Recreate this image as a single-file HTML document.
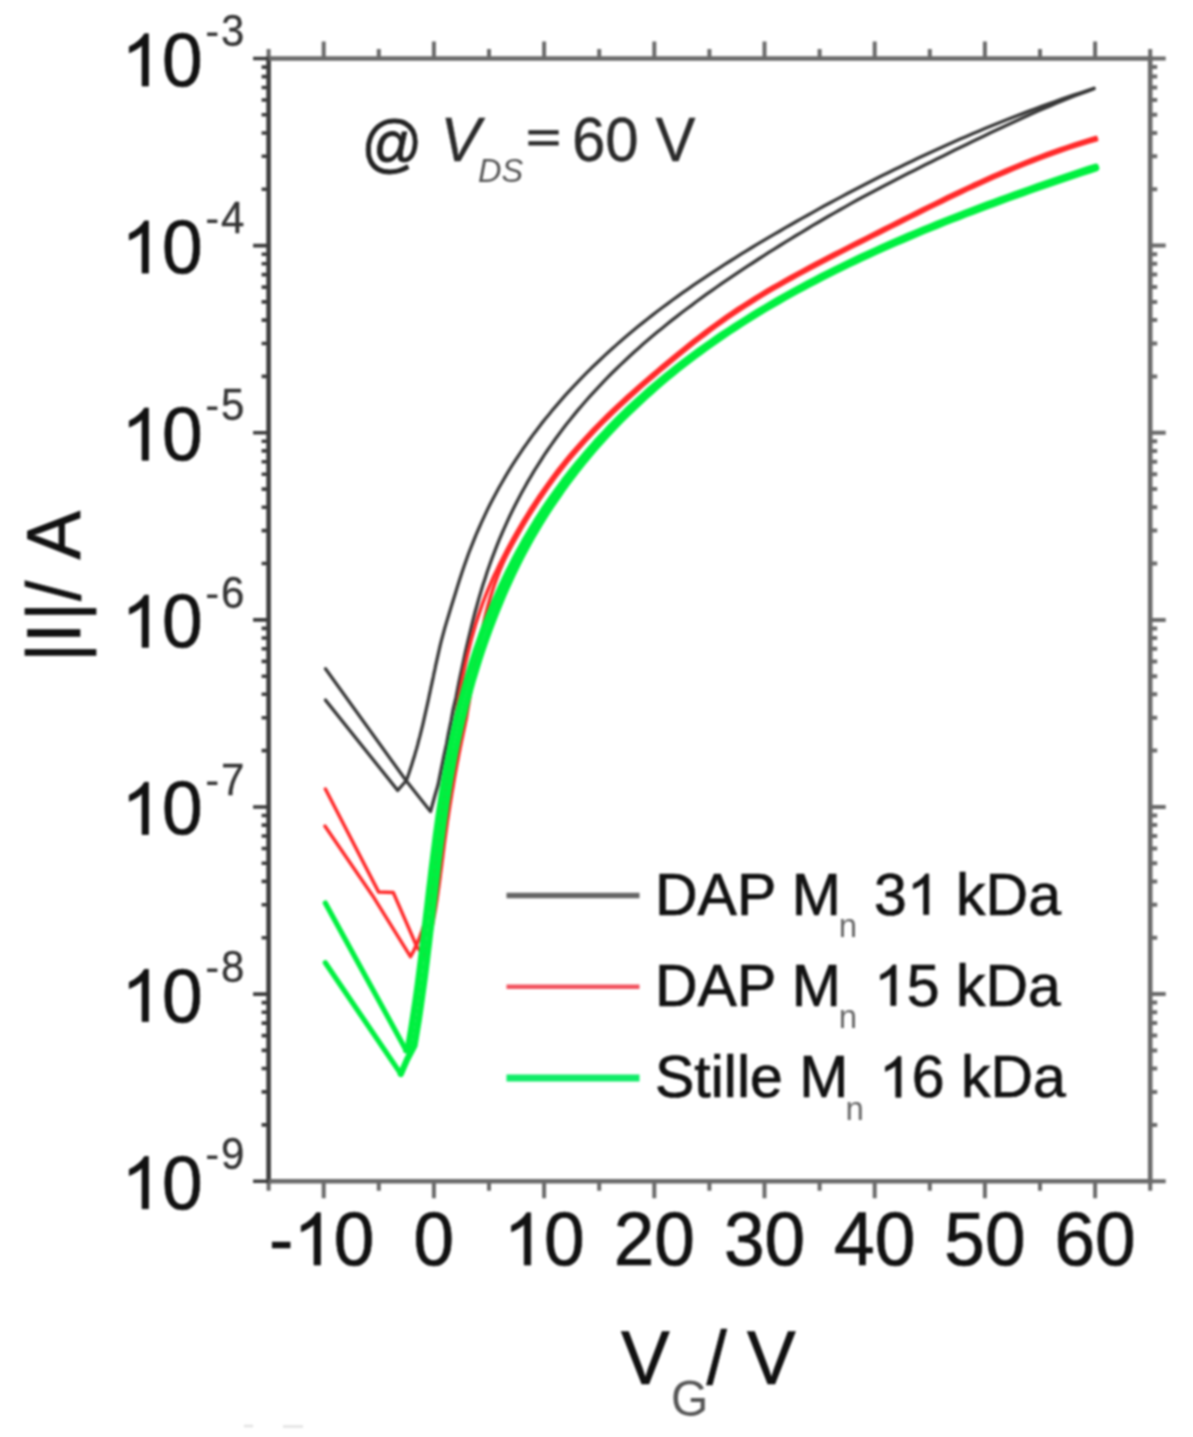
<!DOCTYPE html>
<html><head><meta charset="utf-8"><style>
html,body{margin:0;padding:0;background:#fff;width:1193px;height:1437px;overflow:hidden}
svg{display:block;filter:blur(0.9px)}
</style></head><body>
<svg width="1193" height="1437" viewBox="0 0 1193 1437">
<rect width="100%" height="100%" fill="#fff"/>
<path d="M325.5 668.8 L406.0 780.5 L430.5 811.5 L434.5 797.0 L438.0 785.0 L441.0 770.0 L444.0 755.4 L446.5 744.0 L448.5 733.0 L451.0 721.0 L453.0 710.0 L456.0 697.3 L457.4 690.1 L458.8 682.8 L460.3 675.6 L461.9 668.4 L463.4 661.3 L464.9 654.1 L466.5 647.0 L468.2 639.9 L469.9 632.9 L471.6 625.9 L473.3 618.9 L475.1 612.0 L477.0 605.2 L478.9 598.4 L480.9 591.6 L482.9 585.0 L485.1 578.4 L487.2 571.8 L489.5 565.3 L491.8 558.9 L494.2 552.6 L496.6 546.3 L499.1 540.1 L501.7 534.0 L504.4 527.9 L507.1 521.9 L509.8 516.0 L512.7 510.1 L515.6 504.3 L518.6 498.5 L521.6 492.8 L524.7 487.2 L527.8 481.6 L531.1 476.1 L534.3 470.7 L537.7 465.3 L541.1 460.0 L544.5 454.7 L548.0 449.5 L551.6 444.4 L555.2 439.3 L558.9 434.2 L562.6 429.3 L566.4 424.3 L570.3 419.5 L574.2 414.6 L578.1 409.9 L582.1 405.2 L586.2 400.5 L590.3 395.9 L594.5 391.3 L598.7 386.8 L602.9 382.3 L607.2 377.9 L611.5 373.5 L615.9 369.2 L620.4 364.9 L624.8 360.7 L629.3 356.5 L633.9 352.3 L638.5 348.2 L643.1 344.1 L647.8 340.1 L652.5 336.1 L657.3 332.1 L662.1 328.2 L666.9 324.3 L671.7 320.4 L676.6 316.6 L681.5 312.8 L686.5 309.0 L691.5 305.3 L696.5 301.5 L701.5 297.9 L706.6 294.2 L711.7 290.6 L716.8 287.0 L721.9 283.4 L727.1 279.9 L732.3 276.3 L737.5 272.8 L742.7 269.4 L748.0 265.9 L753.3 262.5 L758.6 259.0 L763.9 255.6 L769.2 252.2 L774.6 248.9 L779.9 245.5 L785.3 242.2 L790.7 238.9 L796.1 235.5 L801.5 232.3 L807.0 229.0 L812.4 225.7 L817.9 222.5 L823.4 219.3 L828.9 216.0 L834.5 212.9 L840.0 209.7 L845.6 206.6 L851.2 203.4 L856.8 200.3 L862.4 197.3 L868.1 194.2 L873.8 191.2 L879.5 188.2 L885.2 185.2 L891.0 182.2 L896.7 179.2 L902.5 176.3 L908.3 173.3 L914.1 170.4 L919.9 167.5 L925.7 164.6 L931.5 161.7 L937.3 158.8 L943.2 155.9 L949.0 153.0 L954.8 150.1 L960.7 147.3 L966.5 144.4 L972.4 141.5 L978.2 138.7 L984.1 135.9 L990.0 133.0 L995.9 130.2 L1001.9 127.4 L1007.8 124.7 L1013.8 121.9 L1019.8 119.2 L1025.8 116.5 L1031.8 113.8 L1037.9 111.1 L1043.9 108.5 L1050.1 105.9 L1056.2 103.3 L1062.4 100.8 L1068.6 98.3 L1074.9 95.8 L1081.2 93.4 L1087.6 91.1 L1094.0 88.8" fill="none" stroke="#383838" stroke-width="3.3" stroke-linejoin="round" stroke-linecap="round"/>
<path d="M325.5 700.1 L397.7 790.4 L402.0 785.5 L406.4 780.5 L407.8 776.5 L409.2 772.5 L410.5 768.5 L411.8 764.5 L413.0 760.6 L414.3 756.6 L415.4 752.6 L416.6 748.6 L417.7 744.6 L418.7 740.6 L419.8 736.6 L420.8 732.6 L421.8 728.6 L422.8 724.6 L423.7 720.7 L424.6 716.7 L425.5 712.7 L426.4 708.7 L427.3 704.7 L428.2 700.7 L429.0 696.7 L429.9 692.7 L430.7 688.7 L431.6 684.7 L432.4 680.8 L433.3 676.8 L434.1 672.8 L435.0 668.8 L435.8 664.8 L436.7 660.8 L437.6 656.8 L438.5 652.8 L439.4 648.8 L440.3 644.8 L441.3 640.9 L443.0 634.6 L444.9 627.6 L447.0 620.6 L449.1 613.7 L451.2 606.8 L453.3 600.0 L455.5 593.1 L457.5 586.4 L459.6 579.7 L461.8 573.0 L464.0 566.5 L466.3 560.0 L468.6 553.5 L471.1 547.1 L473.6 540.8 L476.1 534.6 L478.8 528.5 L481.5 522.4 L484.3 516.4 L487.1 510.4 L490.0 504.5 L493.0 498.7 L496.1 493.0 L499.2 487.3 L502.4 481.7 L505.6 476.1 L508.9 470.7 L512.3 465.2 L515.7 459.9 L519.2 454.6 L522.7 449.3 L526.4 444.1 L530.0 439.0 L533.7 433.9 L537.5 428.9 L541.3 423.9 L545.2 419.0 L549.2 414.2 L553.1 409.3 L557.2 404.6 L561.3 399.9 L565.4 395.2 L569.6 390.6 L573.8 386.1 L578.1 381.6 L582.4 377.1 L586.8 372.7 L591.2 368.3 L595.7 364.0 L600.2 359.7 L604.8 355.4 L609.3 351.2 L614.0 347.1 L618.6 342.9 L623.4 338.8 L628.1 334.8 L632.9 330.8 L637.7 326.8 L642.6 322.9 L647.5 319.0 L652.4 315.1 L657.4 311.3 L662.4 307.5 L667.4 303.8 L672.5 300.0 L677.6 296.4 L682.7 292.7 L687.9 289.1 L693.1 285.4 L698.3 281.9 L703.6 278.3 L708.8 274.8 L714.1 271.3 L719.5 267.8 L724.8 264.4 L730.2 261.0 L735.6 257.6 L741.0 254.2 L746.4 250.9 L751.9 247.5 L757.4 244.2 L762.9 240.9 L768.4 237.6 L774.0 234.4 L779.5 231.2 L785.1 227.9 L790.7 224.7 L796.3 221.5 L801.9 218.4 L807.6 215.2 L813.2 212.1 L818.9 208.9 L824.5 205.8 L830.2 202.7 L836.0 199.6 L841.7 196.6 L847.4 193.5 L853.2 190.5 L859.0 187.5 L864.8 184.5 L870.6 181.5 L876.4 178.5 L882.3 175.6 L888.1 172.7 L894.0 169.8 L899.9 166.9 L905.9 164.0 L911.8 161.2 L917.8 158.3 L923.8 155.5 L929.8 152.7 L935.8 150.0 L941.9 147.2 L947.9 144.5 L954.0 141.8 L960.1 139.1 L966.3 136.5 L972.4 133.8 L978.6 131.2 L984.8 128.6 L991.0 126.0 L997.3 123.5 L1003.5 121.0 L1009.8 118.5 L1016.2 116.0 L1022.5 113.6 L1028.9 111.1 L1035.3 108.7 L1041.7 106.4 L1048.1 104.0 L1054.6 101.7 L1061.1 99.4 L1067.6 97.1 L1074.2 94.9 L1080.8 92.7 L1087.4 90.5 L1094.0 88.3" fill="none" stroke="#383838" stroke-width="3.3" stroke-linejoin="round" stroke-linecap="round"/>
<path d="M324.9 826.1 L372.3 895.2 L410.5 956.7 L413.8 950.6 L416.9 944.1 L419.6 937.4 L422.1 930.5 L424.4 923.3 L426.5 916.0 L428.4 908.4 L430.2 900.7 L431.8 892.8 L433.2 884.8 L434.6 876.7 L435.9 868.5 L437.0 860.2 L438.2 851.9 L439.3 843.5 L440.4 835.1 L441.4 826.7 L442.4 818.3 L443.5 809.9 L444.5 801.4 L445.5 793.0 L446.5 784.5 L447.6 776.1 L448.6 767.7 L449.7 759.3 L450.8 750.9 L451.9 742.6 L453.1 734.3 L454.3 726.0 L455.5 717.8 L456.8 709.6 L458.1 701.5 L459.5 693.4 L461.0 685.4 L462.5 677.5 L464.1 669.7 L465.8 661.9 L467.6 654.2 L469.5 646.6 L471.4 639.1 L473.5 631.7 L475.6 624.3 L477.9 617.1 L480.3 610.1 L482.7 603.1 L485.4 596.2 L488.1 589.5 L490.9 582.9 L493.8 576.3 L496.9 569.9 L499.9 563.5 L503.1 557.2 L506.3 551.0 L509.6 544.8 L513.0 538.7 L516.4 532.6 L519.9 526.6 L523.4 520.7 L527.0 514.8 L530.6 509.0 L534.4 503.3 L538.1 497.6 L542.0 492.0 L545.9 486.4 L549.8 480.9 L553.8 475.5 L557.9 470.1 L562.1 464.8 L566.3 459.6 L570.6 454.4 L575.0 449.3 L579.4 444.3 L583.9 439.3 L588.5 434.4 L593.1 429.5 L597.8 424.7 L602.5 420.0 L607.2 415.3 L612.1 410.6 L616.9 406.0 L621.8 401.5 L626.8 396.9 L631.7 392.5 L636.7 388.0 L641.8 383.6 L646.8 379.2 L651.9 374.8 L657.1 370.5 L662.2 366.1 L667.4 361.8 L672.5 357.6 L677.7 353.3 L683.0 349.1 L688.2 344.9 L693.5 340.7 L698.8 336.5 L704.2 332.4 L709.6 328.4 L715.1 324.4 L720.6 320.4 L726.1 316.5 L731.7 312.6 L737.4 308.8 L743.1 305.1 L748.9 301.4 L754.7 297.8 L760.6 294.2 L766.5 290.6 L772.5 287.1 L778.5 283.7 L784.5 280.2 L790.6 276.8 L796.7 273.5 L802.8 270.2 L809.0 266.9 L815.1 263.6 L821.4 260.3 L827.6 257.1 L833.8 253.9 L840.1 250.7 L846.4 247.5 L852.6 244.3 L858.9 241.1 L865.2 238.0 L871.5 234.8 L877.8 231.6 L884.1 228.4 L890.4 225.3 L896.7 222.1 L903.0 218.9 L909.3 215.8 L915.6 212.6 L921.9 209.4 L928.2 206.3 L934.5 203.2 L940.9 200.0 L947.2 196.9 L953.6 193.9 L960.0 190.8 L966.5 187.8 L972.9 184.7 L979.4 181.8 L985.9 178.8 L992.4 175.9 L999.0 173.0 L1005.6 170.2 L1012.3 167.4 L1019.0 164.6 L1025.7 161.9 L1032.5 159.2 L1039.3 156.6 L1046.2 154.0 L1053.2 151.4 L1060.2 149.0 L1067.2 146.6 L1074.3 144.2 L1081.5 141.9 L1088.7 139.7 L1096.0 137.5" fill="none" stroke="#ff2a2a" stroke-width="3.5" stroke-linejoin="round" stroke-linecap="round"/>
<path d="M325.4 789.0 L378.7 892.1 L393.2 892.4 L416.9 946.7 L424.0 956.0 L424.1 956.1 L424.9 953.6 L425.7 951.2 L426.5 948.7 L427.2 946.1 L428.0 943.6 L428.7 941.0 L429.3 938.4 L430.0 935.8 L430.6 933.2 L431.2 930.5 L431.8 927.8 L432.4 925.2 L433.0 922.4 L433.5 919.7 L434.0 917.0 L434.5 914.2 L435.0 911.4 L435.5 908.6 L436.0 905.8 L436.4 903.0 L436.9 900.2 L437.3 897.3 L437.7 894.5 L438.1 891.6 L438.5 888.8 L438.9 885.9 L439.3 883.0 L439.7 880.1 L440.1 877.2 L440.4 874.3 L440.8 871.4 L441.2 868.5 L441.6 865.6 L441.9 862.7 L442.3 859.8 L442.7 856.9 L443.0 854.0 L443.4 851.1 L443.8 848.2 L444.1 845.3 L444.5 842.4 L444.9 839.5 L445.3 836.7 L445.7 833.8 L446.1 830.9 L446.5 828.1 L446.9 825.2 L447.3 822.3 L447.7 819.5 L448.2 816.6 L448.6 813.8 L449.0 811.0 L449.5 808.1 L449.9 805.3 L450.4 802.5 L450.8 799.7 L451.3 796.9 L451.7 794.0 L452.2 791.2 L452.7 788.4 L453.2 785.7 L453.6 782.9 L454.1 780.1 L454.6 777.3 L455.1 774.5 L455.6 771.8 L456.1 769.0 L456.6 766.2 L457.1 763.5 L457.7 760.7 L458.2 758.0 L458.7 755.2 L459.2 752.5 L459.8 749.8 L460.3 747.0 L460.9 744.3 L461.4 741.6 L462.0 738.9 L462.6 736.2 L463.1 733.5 L463.7 730.8 L464.3 728.1 L464.9 725.4 L465.4 722.7 L466.0 720.0 L466.4 718.1 L467.7 710.0 L469.1 701.9 L470.4 693.8 L471.8 685.9 L473.1 678.0 L474.5 670.1 L475.8 662.4 L477.2 654.7 L478.6 647.1 L480.1 639.7 L481.6 632.3 L483.2 625.0 L484.8 617.9 L486.6 610.8 L488.4 603.9 L490.4 597.1 L492.5 590.4 L494.7 583.8 L497.1 577.3 L499.6 570.9 L502.3 564.5 L505.2 558.2 L508.4 552.0 L511.6 545.9 L515.0 539.8 L518.4 533.8 L521.8 527.8 L525.4 521.9 L528.9 516.1 L532.6 510.3 L536.3 504.5 L540.0 498.9 L543.9 493.3 L547.7 487.7 L551.7 482.2 L555.7 476.8 L559.8 471.5 L563.9 466.2 L568.1 461.0 L572.4 455.9 L576.7 450.8 L581.2 445.8 L585.6 440.9 L590.2 436.0 L594.8 431.1 L599.4 426.4 L604.1 421.6 L608.9 416.9 L613.7 412.3 L618.5 407.7 L623.4 403.2 L628.3 398.6 L633.3 394.2 L638.3 389.7 L643.3 385.3 L648.3 380.9 L653.4 376.6 L658.5 372.2 L663.7 367.9 L668.8 363.6 L674.0 359.3 L679.2 355.1 L684.4 350.9 L689.7 346.7 L694.9 342.5 L700.2 338.4 L705.6 334.3 L711.0 330.2 L716.4 326.2 L721.9 322.3 L727.4 318.4 L733.0 314.6 L738.7 310.8 L744.4 307.0 L750.1 303.4 L755.9 299.7 L761.8 296.1 L767.7 292.6 L773.6 289.1 L779.6 285.7 L785.6 282.2 L791.7 278.9 L797.8 275.5 L803.9 272.2 L810.0 268.9 L816.2 265.6 L822.4 262.4 L828.6 259.1 L834.9 255.9 L841.1 252.7 L847.4 249.5 L853.7 246.3 L860.0 243.2 L866.3 240.0 L872.6 236.8 L878.9 233.7 L885.1 230.5 L891.4 227.3 L897.7 224.1 L904.0 221.0 L910.3 217.8 L916.6 214.6 L922.9 211.5 L929.2 208.3 L935.5 205.2 L941.9 202.1 L948.2 199.0 L954.6 195.9 L961.0 192.9 L967.4 189.8 L973.9 186.8 L980.3 183.9 L986.8 180.9 L993.4 178.0 L999.9 175.1 L1006.5 172.3 L1013.2 169.5 L1019.9 166.7 L1026.6 164.0 L1033.3 161.3 L1040.2 158.7 L1047.0 156.1 L1053.9 153.6 L1060.9 151.1 L1067.9 148.7 L1075.0 146.4 L1082.2 144.1 L1089.4 141.9 L1096.7 139.7" fill="none" stroke="#ff2a2a" stroke-width="3.5" stroke-linejoin="round" stroke-linecap="round"/>
<path d="M325.3 962.7 L400.8 1073.9" fill="none" stroke="#00f040" stroke-width="5.2" stroke-linejoin="round" stroke-linecap="round"/>
<path d="M325.3 903.0 L406.2 1050.4" fill="none" stroke="#00f040" stroke-width="5.2" stroke-linejoin="round" stroke-linecap="round"/>
<path d="M400.8 1073.9 L407.1 1059.5 L414.5 1045.5 L415.9 1037.2 L417.3 1028.7 L418.7 1020.2 L420.0 1011.6 L421.2 1003.1 L422.4 994.4 L423.6 985.8 L424.8 977.1 L425.9 968.4 L427.0 959.6 L428.0 950.9 L429.1 942.1 L430.1 933.3 L431.2 924.5 L432.2 915.7 L433.2 906.9 L434.3 898.1 L435.3 889.3 L436.3 880.5 L437.4 871.8 L438.4 863.0 L439.5 854.3 L440.6 845.6 L441.8 836.9 L442.9 828.3 L444.1 819.7 L445.4 811.1 L446.6 802.6 L448.0 794.1 L449.3 785.6 L450.7 777.3 L452.2 768.9 L453.7 760.7 L455.3 752.5 L457.0 744.3 L458.7 736.3 L460.5 728.3 L462.3 720.3 L464.3 712.4 L466.2 704.6 L468.3 696.9 L470.4 689.2 L472.5 681.6 L474.8 674.0 L477.1 666.5 L479.4 659.1 L481.8 651.7 L484.3 644.4 L486.9 637.2 L489.5 630.0 L492.2 622.9 L494.9 615.9 L497.7 608.9 L500.5 602.0 L503.4 595.1 L506.4 588.3 L509.4 581.6 L512.5 575.0 L515.7 568.4 L518.9 561.9 L522.2 555.4 L525.6 549.0 L529.0 542.7 L532.5 536.5 L536.1 530.3 L539.8 524.2 L543.5 518.1 L547.3 512.1 L551.1 506.2 L555.1 500.4 L559.1 494.6 L563.1 488.8 L567.2 483.2 L571.4 477.6 L575.6 472.0 L580.0 466.6 L584.3 461.1 L588.8 455.8 L593.2 450.5 L597.8 445.2 L602.4 440.1 L607.1 434.9 L611.8 429.9 L616.6 424.9 L621.4 419.9 L626.3 415.0 L631.3 410.2 L636.3 405.4 L641.4 400.6 L646.5 396.0 L651.7 391.3 L656.9 386.7 L662.2 382.2 L667.5 377.7 L672.9 373.3 L678.3 368.9 L683.8 364.6 L689.4 360.3 L695.0 356.1 L700.6 351.9 L706.3 347.8 L712.0 343.7 L717.8 339.6 L723.6 335.6 L729.4 331.7 L735.4 327.8 L741.3 323.9 L747.3 320.1 L753.4 316.3 L759.5 312.6 L765.6 308.9 L771.8 305.3 L778.0 301.7 L784.3 298.1 L790.6 294.6 L796.9 291.1 L803.2 287.7 L809.7 284.3 L816.1 280.9 L822.6 277.5 L829.1 274.2 L835.6 271.0 L842.2 267.7 L848.8 264.5 L855.4 261.3 L862.1 258.2 L868.8 255.1 L875.6 252.0 L882.3 248.9 L889.1 245.9 L895.9 242.9 L902.8 240.0 L909.7 237.0 L916.6 234.1 L923.5 231.2 L930.5 228.4 L937.5 225.5 L944.5 222.7 L951.5 219.9 L958.5 217.2 L965.6 214.4 L972.7 211.7 L979.8 209.0 L987.0 206.3 L994.1 203.7 L1001.3 201.0 L1008.5 198.4 L1015.8 195.8 L1023.0 193.2 L1030.2 190.6 L1037.5 188.1 L1044.8 185.6 L1052.1 183.0 L1059.4 180.5 L1066.8 178.0 L1074.1 175.6 L1081.5 173.1 L1088.8 170.7 L1096.2 168.2" fill="none" stroke="#00f040" stroke-width="6.3" stroke-linejoin="round" stroke-linecap="round"/>
<path d="M406.2 1050.4 L408.6 1044.5 L410.0 1036.2 L411.4 1027.7 L412.7 1019.3 L414.0 1010.8 L415.3 1002.2 L416.5 993.6 L417.7 985.0 L418.8 976.3 L419.9 967.6 L421.0 958.9 L422.1 950.1 L423.1 941.4 L424.2 932.6 L425.2 923.8 L426.2 915.0 L427.3 906.2 L428.3 897.4 L429.3 888.6 L430.4 879.8 L431.4 871.1 L432.5 862.3 L433.6 853.5 L434.7 844.8 L435.8 836.1 L437.0 827.5 L438.2 818.8 L439.4 810.2 L440.7 801.7 L442.0 793.1 L443.4 784.7 L444.8 776.2 L446.3 767.9 L447.9 759.6 L449.5 751.3 L451.1 743.1 L452.9 735.0 L454.7 726.9 L456.5 718.9 L458.4 711.0 L460.4 703.1 L462.5 695.3 L464.6 687.6 L466.8 679.9 L469.0 672.3 L471.3 664.7 L473.7 657.2 L476.1 649.8 L478.7 642.5 L481.2 635.2 L483.9 627.9 L486.6 620.8 L489.4 613.7 L492.3 606.7 L495.2 599.8 L498.3 592.9 L501.3 586.1 L504.5 579.3 L507.7 572.7 L511.0 566.1 L514.4 559.5 L517.8 553.1 L521.3 546.7 L524.8 540.4 L528.5 534.1 L532.2 527.9 L535.9 521.8 L539.8 515.7 L543.6 509.8 L547.6 503.8 L551.6 498.0 L555.7 492.2 L559.9 486.5 L564.1 480.8 L568.4 475.3 L572.7 469.7 L577.1 464.3 L581.6 458.9 L586.1 453.5 L590.7 448.3 L595.3 443.0 L600.0 437.9 L604.8 432.8 L609.6 427.7 L614.4 422.8 L619.4 417.8 L624.3 413.0 L629.4 408.1 L634.5 403.4 L639.6 398.7 L644.8 394.0 L650.0 389.4 L655.3 384.9 L660.7 380.4 L666.1 376.0 L671.5 371.6 L677.0 367.2 L682.5 362.9 L688.1 358.7 L693.8 354.5 L699.5 350.4 L705.2 346.3 L711.0 342.2 L716.8 338.2 L722.6 334.2 L728.6 330.3 L734.5 326.4 L740.5 322.6 L746.5 318.8 L752.6 315.0 L758.7 311.3 L764.8 307.6 L771.0 303.9 L777.2 300.3 L783.5 296.7 L789.8 293.2 L796.1 289.7 L802.5 286.3 L808.9 282.8 L815.4 279.5 L821.8 276.1 L828.4 272.8 L834.9 269.5 L841.5 266.3 L848.1 263.1 L854.8 259.9 L861.4 256.7 L868.2 253.6 L874.9 250.5 L881.7 247.5 L888.5 244.5 L895.3 241.5 L902.2 238.5 L909.0 235.5 L916.0 232.6 L922.9 229.7 L929.9 226.9 L936.9 224.0 L943.9 221.2 L950.9 218.4 L958.0 215.7 L965.0 212.9 L972.2 210.2 L979.3 207.5 L986.4 204.8 L993.6 202.2 L1000.8 199.5 L1008.0 196.9 L1015.2 194.3 L1022.5 191.7 L1029.7 189.1 L1037.0 186.6 L1044.3 184.1 L1051.6 181.5 L1058.9 179.0 L1066.2 176.5 L1073.6 174.1 L1081.0 171.6 L1088.3 169.1 L1095.7 166.7" fill="none" stroke="#00f040" stroke-width="6.3" stroke-linejoin="round" stroke-linecap="round"/>
<path d="M268.6 56.2V1183.5" stroke="#3c3c3c" stroke-width="4.6" fill="none"/>
<path d="M268.6 58.5H1152.5 M1150.2 58.5V1183.5 M268.6 1181.2H1152.5" stroke="#6a6a6a" stroke-width="4.6" fill="none"/>
<path d="M268.6 1181.2v9.5 M268.6 58.5v-9.5 M323.7 1181.2v17.0 M323.7 58.5v-17.0 M378.8 1181.2v9.5 M378.8 58.5v-9.5 M433.9 1181.2v17.0 M433.9 58.5v-17.0 M489.0 1181.2v9.5 M489.0 58.5v-9.5 M544.1 1181.2v17.0 M544.1 58.5v-17.0 M599.2 1181.2v9.5 M599.2 58.5v-9.5 M654.3 1181.2v17.0 M654.3 58.5v-17.0 M709.4 1181.2v9.5 M709.4 58.5v-9.5 M764.5 1181.2v17.0 M764.5 58.5v-17.0 M819.6 1181.2v9.5 M819.6 58.5v-9.5 M874.7 1181.2v17.0 M874.7 58.5v-17.0 M929.8 1181.2v9.5 M929.8 58.5v-9.5 M984.9 1181.2v17.0 M984.9 58.5v-17.0 M1040.0 1181.2v9.5 M1040.0 58.5v-9.5 M1095.1 1181.2v17.0 M1095.1 58.5v-17.0 M1150.2 1181.2v9.5 M1150.2 58.5v-9.5 M1150.2 1181.2h15.5 M1150.2 1124.9h7.0 M1150.2 1091.9h7.0 M1150.2 1068.5h7.0 M1150.2 1050.4h7.0 M1150.2 1035.6h7.0 M1150.2 1023.1h7.0 M1150.2 1012.2h7.0 M1150.2 1002.6h7.0 M1150.2 994.1h15.5 M1150.2 937.8h7.0 M1150.2 904.8h7.0 M1150.2 881.4h7.0 M1150.2 863.3h7.0 M1150.2 848.5h7.0 M1150.2 836.0h7.0 M1150.2 825.1h7.0 M1150.2 815.5h7.0 M1150.2 807.0h15.5 M1150.2 750.6h7.0 M1150.2 717.7h7.0 M1150.2 694.3h7.0 M1150.2 676.2h7.0 M1150.2 661.4h7.0 M1150.2 648.8h7.0 M1150.2 638.0h7.0 M1150.2 628.4h7.0 M1150.2 619.9h15.5 M1150.2 563.5h7.0 M1150.2 530.6h7.0 M1150.2 507.2h7.0 M1150.2 489.1h7.0 M1150.2 474.2h7.0 M1150.2 461.7h7.0 M1150.2 450.9h7.0 M1150.2 441.3h7.0 M1150.2 432.7h15.5 M1150.2 376.4h7.0 M1150.2 343.5h7.0 M1150.2 320.1h7.0 M1150.2 301.9h7.0 M1150.2 287.1h7.0 M1150.2 274.6h7.0 M1150.2 263.8h7.0 M1150.2 254.2h7.0 M1150.2 245.6h15.5 M1150.2 189.3h7.0 M1150.2 156.3h7.0 M1150.2 133.0h7.0 M1150.2 114.8h7.0 M1150.2 100.0h7.0 M1150.2 87.5h7.0 M1150.2 76.6h7.0 M1150.2 67.1h7.0 M1150.2 58.5h15.5" stroke="#6a6a6a" stroke-width="4" fill="none"/>
<path d="M268.6 1181.2h-15.5 M268.6 1124.9h-7.0 M268.6 1091.9h-7.0 M268.6 1068.5h-7.0 M268.6 1050.4h-7.0 M268.6 1035.6h-7.0 M268.6 1023.1h-7.0 M268.6 1012.2h-7.0 M268.6 1002.6h-7.0 M268.6 994.1h-15.5 M268.6 937.8h-7.0 M268.6 904.8h-7.0 M268.6 881.4h-7.0 M268.6 863.3h-7.0 M268.6 848.5h-7.0 M268.6 836.0h-7.0 M268.6 825.1h-7.0 M268.6 815.5h-7.0 M268.6 807.0h-15.5 M268.6 750.6h-7.0 M268.6 717.7h-7.0 M268.6 694.3h-7.0 M268.6 676.2h-7.0 M268.6 661.4h-7.0 M268.6 648.8h-7.0 M268.6 638.0h-7.0 M268.6 628.4h-7.0 M268.6 619.9h-15.5 M268.6 563.5h-7.0 M268.6 530.6h-7.0 M268.6 507.2h-7.0 M268.6 489.1h-7.0 M268.6 474.2h-7.0 M268.6 461.7h-7.0 M268.6 450.9h-7.0 M268.6 441.3h-7.0 M268.6 432.7h-15.5 M268.6 376.4h-7.0 M268.6 343.5h-7.0 M268.6 320.1h-7.0 M268.6 301.9h-7.0 M268.6 287.1h-7.0 M268.6 274.6h-7.0 M268.6 263.8h-7.0 M268.6 254.2h-7.0 M268.6 245.6h-15.5 M268.6 189.3h-7.0 M268.6 156.3h-7.0 M268.6 133.0h-7.0 M268.6 114.8h-7.0 M268.6 100.0h-7.0 M268.6 87.5h-7.0 M268.6 76.6h-7.0 M268.6 67.1h-7.0 M268.6 58.5h-15.5" stroke="#3c3c3c" stroke-width="3.6" fill="none"/>
<g transform="translate(121.30,86.00) scale(1,1.040)"><path transform="translate(0.00,0) scale(0.03564,-0.03425)" d="M763 0H583V1147Q518 1085 412.5 1023T223 930V1104Q375 1175 489 1276T650 1466H763V0Z" fill="#111" stroke="#111" stroke-width="19.6"/><text x="40.60" y="0" font-family="Liberation Sans, sans-serif" font-size="73" fill="#111" stroke="#111" stroke-width="0.7">0</text></g>
<g transform="translate(205.2,46.2) scale(1,1.040)"><text x="0" y="0" font-family="Liberation Sans, sans-serif" font-size="42" fill="#333">-</text></g>
<g transform="translate(221.0,46.2) scale(1,1.040)"><text x="0" y="0" font-family="Liberation Sans, sans-serif" font-size="42" fill="#333" stroke="#333" stroke-width="0.3">3</text></g>
<g transform="translate(121.30,273.12) scale(1,1.040)"><path transform="translate(0.00,0) scale(0.03564,-0.03425)" d="M763 0H583V1147Q518 1085 412.5 1023T223 930V1104Q375 1175 489 1276T650 1466H763V0Z" fill="#111" stroke="#111" stroke-width="19.6"/><text x="40.60" y="0" font-family="Liberation Sans, sans-serif" font-size="73" fill="#111" stroke="#111" stroke-width="0.7">0</text></g>
<g transform="translate(205.2,233.3) scale(1,1.040)"><text x="0" y="0" font-family="Liberation Sans, sans-serif" font-size="42" fill="#333">-</text></g>
<g transform="translate(221.0,233.3) scale(1,1.040)"><text x="0" y="0" font-family="Liberation Sans, sans-serif" font-size="42" fill="#333" stroke="#333" stroke-width="0.3">4</text></g>
<g transform="translate(121.30,460.23) scale(1,1.040)"><path transform="translate(0.00,0) scale(0.03564,-0.03425)" d="M763 0H583V1147Q518 1085 412.5 1023T223 930V1104Q375 1175 489 1276T650 1466H763V0Z" fill="#111" stroke="#111" stroke-width="19.6"/><text x="40.60" y="0" font-family="Liberation Sans, sans-serif" font-size="73" fill="#111" stroke="#111" stroke-width="0.7">0</text></g>
<g transform="translate(205.2,420.4) scale(1,1.040)"><text x="0" y="0" font-family="Liberation Sans, sans-serif" font-size="42" fill="#333">-</text></g>
<g transform="translate(221.0,420.4) scale(1,1.040)"><text x="0" y="0" font-family="Liberation Sans, sans-serif" font-size="42" fill="#333" stroke="#333" stroke-width="0.3">5</text></g>
<g transform="translate(121.30,647.35) scale(1,1.040)"><path transform="translate(0.00,0) scale(0.03564,-0.03425)" d="M763 0H583V1147Q518 1085 412.5 1023T223 930V1104Q375 1175 489 1276T650 1466H763V0Z" fill="#111" stroke="#111" stroke-width="19.6"/><text x="40.60" y="0" font-family="Liberation Sans, sans-serif" font-size="73" fill="#111" stroke="#111" stroke-width="0.7">0</text></g>
<g transform="translate(205.2,607.6) scale(1,1.040)"><text x="0" y="0" font-family="Liberation Sans, sans-serif" font-size="42" fill="#333">-</text></g>
<g transform="translate(221.0,607.6) scale(1,1.040)"><text x="0" y="0" font-family="Liberation Sans, sans-serif" font-size="42" fill="#333" stroke="#333" stroke-width="0.3">6</text></g>
<g transform="translate(121.30,834.47) scale(1,1.040)"><path transform="translate(0.00,0) scale(0.03564,-0.03425)" d="M763 0H583V1147Q518 1085 412.5 1023T223 930V1104Q375 1175 489 1276T650 1466H763V0Z" fill="#111" stroke="#111" stroke-width="19.6"/><text x="40.60" y="0" font-family="Liberation Sans, sans-serif" font-size="73" fill="#111" stroke="#111" stroke-width="0.7">0</text></g>
<g transform="translate(205.2,794.7) scale(1,1.040)"><text x="0" y="0" font-family="Liberation Sans, sans-serif" font-size="42" fill="#333">-</text></g>
<g transform="translate(221.0,794.7) scale(1,1.040)"><text x="0" y="0" font-family="Liberation Sans, sans-serif" font-size="42" fill="#333" stroke="#333" stroke-width="0.3">7</text></g>
<g transform="translate(121.30,1021.58) scale(1,1.040)"><path transform="translate(0.00,0) scale(0.03564,-0.03425)" d="M763 0H583V1147Q518 1085 412.5 1023T223 930V1104Q375 1175 489 1276T650 1466H763V0Z" fill="#111" stroke="#111" stroke-width="19.6"/><text x="40.60" y="0" font-family="Liberation Sans, sans-serif" font-size="73" fill="#111" stroke="#111" stroke-width="0.7">0</text></g>
<g transform="translate(205.2,981.8) scale(1,1.040)"><text x="0" y="0" font-family="Liberation Sans, sans-serif" font-size="42" fill="#333">-</text></g>
<g transform="translate(221.0,981.8) scale(1,1.040)"><text x="0" y="0" font-family="Liberation Sans, sans-serif" font-size="42" fill="#333" stroke="#333" stroke-width="0.3">8</text></g>
<g transform="translate(121.30,1208.70) scale(1,1.040)"><path transform="translate(0.00,0) scale(0.03564,-0.03425)" d="M763 0H583V1147Q518 1085 412.5 1023T223 930V1104Q375 1175 489 1276T650 1466H763V0Z" fill="#111" stroke="#111" stroke-width="19.6"/><text x="40.60" y="0" font-family="Liberation Sans, sans-serif" font-size="73" fill="#111" stroke="#111" stroke-width="0.7">0</text></g>
<g transform="translate(205.2,1168.9) scale(1,1.040)"><text x="0" y="0" font-family="Liberation Sans, sans-serif" font-size="42" fill="#333">-</text></g>
<g transform="translate(221.0,1168.9) scale(1,1.040)"><text x="0" y="0" font-family="Liberation Sans, sans-serif" font-size="42" fill="#333" stroke="#333" stroke-width="0.3">9</text></g>
<g transform="translate(268.95,1265.00) scale(1,1.040)"><text x="0.00" y="0" font-family="Liberation Sans, sans-serif" font-size="73" fill="#111" stroke="#111" stroke-width="0.7">-</text><path transform="translate(24.31,0) scale(0.03564,-0.03425)" d="M763 0H583V1147Q518 1085 412.5 1023T223 930V1104Q375 1175 489 1276T650 1466H763V0Z" fill="#111" stroke="#111" stroke-width="19.6"/><text x="64.91" y="0" font-family="Liberation Sans, sans-serif" font-size="73" fill="#111" stroke="#111" stroke-width="0.7">0</text></g>
<g transform="translate(413.60,1265.00) scale(1,1.040)"><text x="0.00" y="0" font-family="Liberation Sans, sans-serif" font-size="73" fill="#111" stroke="#111" stroke-width="0.7">0</text></g>
<g transform="translate(503.50,1265.00) scale(1,1.040)"><path transform="translate(0.00,0) scale(0.03564,-0.03425)" d="M763 0H583V1147Q518 1085 412.5 1023T223 930V1104Q375 1175 489 1276T650 1466H763V0Z" fill="#111" stroke="#111" stroke-width="19.6"/><text x="40.60" y="0" font-family="Liberation Sans, sans-serif" font-size="73" fill="#111" stroke="#111" stroke-width="0.7">0</text></g>
<g transform="translate(613.70,1265.00) scale(1,1.040)"><text x="0.00" y="0" font-family="Liberation Sans, sans-serif" font-size="73" fill="#111" stroke="#111" stroke-width="0.7">20</text></g>
<g transform="translate(723.90,1265.00) scale(1,1.040)"><text x="0.00" y="0" font-family="Liberation Sans, sans-serif" font-size="73" fill="#111" stroke="#111" stroke-width="0.7">30</text></g>
<g transform="translate(834.10,1265.00) scale(1,1.040)"><text x="0.00" y="0" font-family="Liberation Sans, sans-serif" font-size="73" fill="#111" stroke="#111" stroke-width="0.7">40</text></g>
<g transform="translate(944.30,1265.00) scale(1,1.040)"><text x="0.00" y="0" font-family="Liberation Sans, sans-serif" font-size="73" fill="#111" stroke="#111" stroke-width="0.7">50</text></g>
<g transform="translate(1054.50,1265.00) scale(1,1.040)"><text x="0.00" y="0" font-family="Liberation Sans, sans-serif" font-size="73" fill="#111" stroke="#111" stroke-width="0.7">60</text></g>
<g transform="translate(79.5,652.5) rotate(-90) scale(1,1.04)"><text x="0" y="0" font-family="Liberation Sans, sans-serif" font-size="73" text-anchor="middle" fill="#111" stroke="#111" stroke-width="0.7">|</text></g>
<g transform="translate(79.5,633.0) rotate(-90) scale(1,1.04)"><text x="0" y="0" font-family="Liberation Sans, sans-serif" font-size="73" text-anchor="middle" fill="#111" stroke="#111" stroke-width="0.7">I</text></g>
<g transform="translate(79.5,611.4) rotate(-90) scale(1,1.04)"><text x="0" y="0" font-family="Liberation Sans, sans-serif" font-size="73" text-anchor="middle" fill="#111" stroke="#111" stroke-width="0.7">|</text></g>
<g transform="translate(79.5,590.8) rotate(-90) scale(1,1.04)"><text x="0" y="0" font-family="Liberation Sans, sans-serif" font-size="73" text-anchor="middle" fill="#111" stroke="#111" stroke-width="0.7">/</text></g>
<g transform="translate(79.5,535.2) rotate(-90) scale(1,1.04)"><text x="0" y="0" font-family="Liberation Sans, sans-serif" font-size="73" text-anchor="middle" fill="#111" stroke="#111" stroke-width="0.7">A</text></g>
<g transform="translate(621.0,1383.5) scale(1,1.040)"><text x="0" y="0" font-family="Liberation Sans, sans-serif" font-size="73" fill="#111" stroke="#111" stroke-width="0.7">V</text></g>
<g transform="translate(671.0,1415.5) scale(1,1.040)"><text x="0" y="0" font-family="Liberation Sans, sans-serif" font-size="48" fill="#555">G</text></g>
<g transform="translate(706.5,1383.5) scale(1,1.040)"><text x="0" y="0" font-family="Liberation Sans, sans-serif" font-size="73" fill="#111" stroke="#111" stroke-width="0.7">/ V</text></g>
<g transform="translate(361.5,165.0) scale(1,1.040)"><text x="0" y="0" font-family="Liberation Sans, sans-serif" font-size="60" fill="#222" stroke="#222" stroke-width="0.9">@</text></g>
<g transform="translate(440.5,161.0) scale(1,1.040)"><text x="0" y="0" font-family="Liberation Sans, sans-serif" font-size="60" font-style="italic" fill="#2a2a2a" stroke="#2a2a2a" stroke-width="0.3">V</text></g>
<g transform="translate(478.0,182.0) scale(1,1.040)"><text x="0" y="0" font-family="Liberation Sans, sans-serif" font-size="32.5" font-style="italic" fill="#555">DS</text></g>
<g transform="translate(526,152.4) scale(1,0.75)"><text x="0" y="0" font-family="Liberation Sans, sans-serif" font-size="60" fill="#2a2a2a" stroke="#2a2a2a" stroke-width="1.1">=</text></g>
<g transform="translate(572.0,161.0) scale(1,1.040)"><text x="0" y="0" font-family="Liberation Sans, sans-serif" font-size="60" fill="#2a2a2a" stroke="#2a2a2a" stroke-width="0.3">60 V</text></g>
<line x1="506.5" y1="895.4" x2="639.5" y2="895.4" stroke="#666666" stroke-width="5.5"/>
<g transform="translate(655.0,914.5) scale(1,1.000)"><text x="0" y="0" font-family="Liberation Sans, sans-serif" font-size="59" fill="#111" stroke="#111" stroke-width="0.7">DAP M</text></g>
<g transform="translate(838.8,937.0) scale(1,1.000)"><text x="0" y="0" font-family="Liberation Sans, sans-serif" font-size="33" fill="#666">n</text></g>
<g transform="translate(874.00,914.50) scale(1,1.000)"><text x="0.00" y="0" font-family="Liberation Sans, sans-serif" font-size="59" fill="#111" stroke="#111" stroke-width="0.7">3</text><path transform="translate(32.81,0) scale(0.02881,-0.02769)" d="M763 0H583V1147Q518 1085 412.5 1023T223 930V1104Q375 1175 489 1276T650 1466H763V0Z" fill="#111" stroke="#111" stroke-width="24.3"/><text x="65.63" y="0" font-family="Liberation Sans, sans-serif" font-size="59" fill="#111" stroke="#111" stroke-width="0.7">&#160;kDa</text></g>
<line x1="506.5" y1="986.8" x2="639.5" y2="986.8" stroke="#f2535f" stroke-width="4.5"/>
<g transform="translate(655.0,1005.5) scale(1,1.000)"><text x="0" y="0" font-family="Liberation Sans, sans-serif" font-size="59" fill="#111" stroke="#111" stroke-width="0.7">DAP M</text></g>
<g transform="translate(838.8,1028.0) scale(1,1.000)"><text x="0" y="0" font-family="Liberation Sans, sans-serif" font-size="33" fill="#666">n</text></g>
<g transform="translate(874.00,1005.50) scale(1,1.000)"><path transform="translate(0.00,0) scale(0.02881,-0.02769)" d="M763 0H583V1147Q518 1085 412.5 1023T223 930V1104Q375 1175 489 1276T650 1466H763V0Z" fill="#111" stroke="#111" stroke-width="24.3"/><text x="32.81" y="0" font-family="Liberation Sans, sans-serif" font-size="59" fill="#111" stroke="#111" stroke-width="0.7">5&#160;kDa</text></g>
<line x1="506.5" y1="1078.0" x2="639.5" y2="1078.0" stroke="#10ec68" stroke-width="7"/>
<g transform="translate(655.0,1097.2) scale(1,1.000)"><text x="0" y="0" font-family="Liberation Sans, sans-serif" font-size="59" fill="#111" stroke="#111" stroke-width="0.7">Stille M</text></g>
<g transform="translate(845.4,1119.7) scale(1,1.000)"><text x="0" y="0" font-family="Liberation Sans, sans-serif" font-size="33" fill="#666">n</text></g>
<g transform="translate(879.00,1097.20) scale(1,1.000)"><path transform="translate(0.00,0) scale(0.02881,-0.02769)" d="M763 0H583V1147Q518 1085 412.5 1023T223 930V1104Q375 1175 489 1276T650 1466H763V0Z" fill="#111" stroke="#111" stroke-width="24.3"/><text x="32.81" y="0" font-family="Liberation Sans, sans-serif" font-size="59" fill="#111" stroke="#111" stroke-width="0.7">6&#160;kDa</text></g>
<path d="M244 1426h9M283 1426.5h20" stroke="#e2e2e2" stroke-width="2.5"/>
</svg>
</body></html>
